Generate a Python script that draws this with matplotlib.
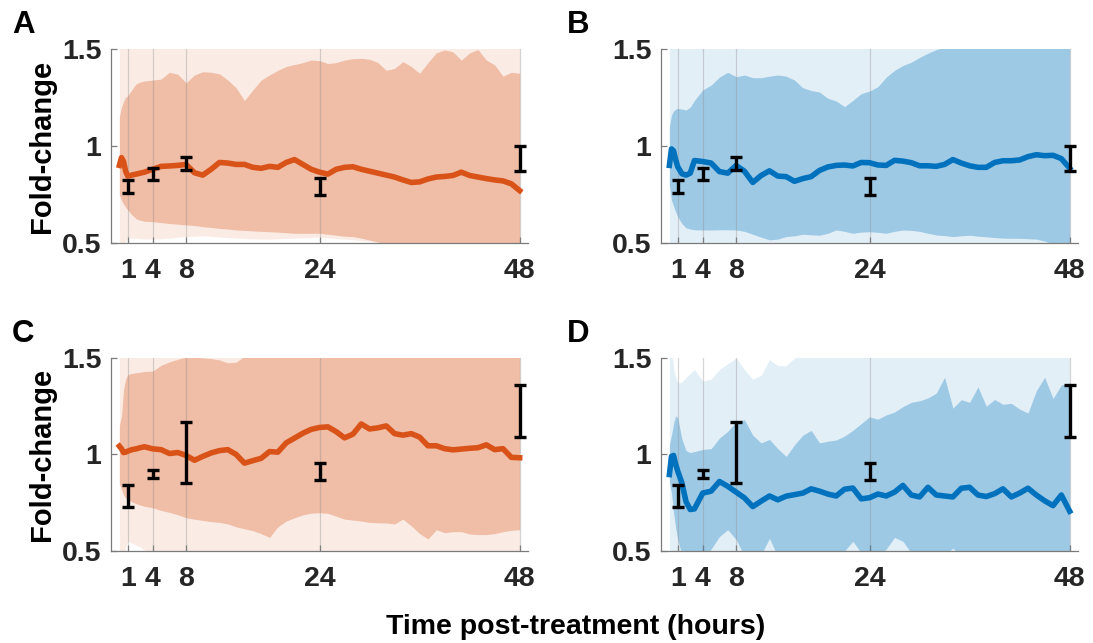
"""
Fold-change time courses for four conditions (A-D), mean line with two
shaded percentile bands and measured error bars at 1, 4, 8, 24, 48 h.
"""

import matplotlib
matplotlib.use("Agg")

import matplotlib.pyplot as plt

plt.rcParams["font.family"] = ["Liberation Sans", "DejaVu Sans"]
plt.rcParams["font.weight"] = "bold"

# -- time grid (hours) --
TIME = [0, 0.25, 0.5, 0.75, 1, 1.5, 2, 2.5, 3] + list(range(4, 49))

# -- panel A --
A_LINE = [0.90, 0.94, 0.92, 0.87, 0.845, 0.85, 0.855, 0.86, 0.865,
          0.88, 0.895, 0.897, 0.90, 0.905, 0.862, 0.85, 0.88, 0.915, 0.912,
          0.905, 0.905, 0.89, 0.885, 0.895, 0.89, 0.915, 0.93, 0.905, 0.88,
          0.865, 0.855, 0.88, 0.89, 0.893, 0.88, 0.87, 0.86, 0.85, 0.84,
          0.825, 0.812, 0.815, 0.83, 0.84, 0.843, 0.848, 0.865, 0.848, 0.84,
          0.832, 0.825, 0.82, 0.805, 0.77]
A_DARK_HI = [1.15, 1.20, 1.23, 1.25, 1.26, 1.29, 1.32, 1.33, 1.335,
             1.34, 1.345, 1.38, 1.37, 1.326, 1.366, 1.383, 1.38, 1.372, 1.34,
             1.30, 1.234, 1.289, 1.34, 1.366, 1.39, 1.41, 1.42, 1.43, 1.443,
             1.44, 1.425, 1.43, 1.443, 1.45, 1.452, 1.447, 1.43, 1.39, 1.40,
             1.435, 1.41, 1.375, 1.43, 1.48, 1.495, 1.485, 1.443, 1.48, 1.497,
             1.443, 1.418, 1.36, 1.38, 1.375]
A_DARK_LO = [0.75, 0.72, 0.70, 0.685, 0.67, 0.645, 0.625, 0.617, 0.612,
             0.61, 0.605, 0.60, 0.597, 0.593, 0.59, 0.584, 0.58, 0.575, 0.572,
             0.567, 0.565, 0.562, 0.56, 0.558, 0.556, 0.553, 0.55, 0.55, 0.55,
             0.55, 0.545, 0.54, 0.535, 0.533, 0.525, 0.515, 0.505, 0.495, 0.485,
             0.48, 0.475, 0.47, 0.47, 0.465, 0.46, 0.46, 0.455, 0.45, 0.45,
             0.45, 0.445, 0.44, 0.44, 0.44]
A_LIGHT_HI = [1.90, 1.85, 1.80, 1.75, 1.72, 1.70, 1.70, 1.68, 1.68,
              1.67, 1.67, 1.66, 1.66, 1.66, 1.65, 1.65, 1.65, 1.65, 1.65,
              1.65, 1.64, 1.64, 1.64, 1.64, 1.64, 1.64, 1.64, 1.64, 1.64,
              1.64, 1.64, 1.64, 1.64, 1.64, 1.64, 1.64, 1.64, 1.64, 1.64,
              1.64, 1.64, 1.64, 1.64, 1.64, 1.64, 1.64, 1.64, 1.64, 1.64,
              1.64, 1.64, 1.64, 1.64, 1.64]
A_LIGHT_LO = [0.35, 0.40, 0.47, 0.51, 0.53, 0.525, 0.524, 0.522, 0.521,
              0.52, 0.522, 0.525, 0.53, 0.533, 0.535, 0.537, 0.535, 0.53, 0.528,
              0.525, 0.523, 0.522, 0.52, 0.52, 0.522, 0.524, 0.525, 0.527, 0.528,
              0.53, 0.527, 0.523, 0.52, 0.517, 0.512, 0.508, 0.503, 0.497, 0.49,
              0.485, 0.48, 0.475, 0.47, 0.47, 0.465, 0.46, 0.46, 0.455, 0.45,
              0.45, 0.45, 0.445, 0.44, 0.44]

# -- panel B --
B_LINE = [0.90, 0.985, 0.975, 0.93, 0.893, 0.857, 0.85, 0.86, 0.925,
          0.92, 0.912, 0.868, 0.86, 0.90, 0.87, 0.812, 0.848, 0.872, 0.845,
          0.842, 0.818, 0.832, 0.842, 0.874, 0.892, 0.90, 0.902, 0.897, 0.915,
          0.914, 0.902, 0.90, 0.926, 0.922, 0.914, 0.898, 0.898, 0.895, 0.905,
          0.93, 0.912, 0.898, 0.89, 0.89, 0.915, 0.924, 0.924, 0.928, 0.945,
          0.955, 0.95, 0.952, 0.935, 0.885]
B_DARK_HI = [1.10, 1.16, 1.18, 1.19, 1.194, 1.19, 1.186, 1.20, 1.235,
             1.289, 1.314, 1.355, 1.38, 1.357, 1.366, 1.352, 1.352, 1.36, 1.366,
             1.36, 1.34, 1.30, 1.286, 1.278, 1.246, 1.232, 1.203, 1.235, 1.27,
             1.283, 1.306, 1.355, 1.39, 1.415, 1.432, 1.457, 1.478, 1.497, 1.51,
             1.52, 1.54, 1.55, 1.56, 1.56, 1.57, 1.57, 1.57, 1.58, 1.58,
             1.58, 1.58, 1.57, 1.56, 1.55]
B_DARK_LO = [0.80, 0.72, 0.69, 0.66, 0.636, 0.60, 0.578, 0.572, 0.568,
             0.567, 0.567, 0.568, 0.568, 0.567, 0.56, 0.545, 0.53, 0.516, 0.52,
             0.533, 0.537, 0.545, 0.542, 0.54, 0.55, 0.567, 0.56, 0.55, 0.556,
             0.558, 0.555, 0.55, 0.56, 0.567, 0.565, 0.56, 0.55, 0.541, 0.538,
             0.533, 0.537, 0.54, 0.535, 0.532, 0.528, 0.525, 0.524, 0.524, 0.522,
             0.52, 0.51, 0.495, 0.485, 0.48]
B_LIGHT_HI = [1.90, 1.85, 1.80, 1.75, 1.72, 1.70, 1.70, 1.68, 1.68,
              1.67, 1.67, 1.66, 1.66, 1.66, 1.65, 1.65, 1.65, 1.65, 1.65,
              1.65, 1.65, 1.65, 1.65, 1.65, 1.65, 1.65, 1.65, 1.65, 1.65,
              1.66, 1.66, 1.67, 1.68, 1.69, 1.70, 1.71, 1.72, 1.73, 1.74,
              1.75, 1.76, 1.77, 1.78, 1.78, 1.79, 1.79, 1.80, 1.80, 1.80,
              1.80, 1.80, 1.80, 1.80, 1.80]
B_LIGHT_LO = [0.30, 0.35, 0.40, 0.43, 0.45, 0.46, 0.47, 0.47, 0.47,
              0.47, 0.47, 0.47, 0.47, 0.47, 0.47, 0.46, 0.46, 0.46, 0.45,
              0.45, 0.45, 0.45, 0.45, 0.45, 0.45, 0.45, 0.45, 0.45, 0.45,
              0.45, 0.45, 0.45, 0.45, 0.45, 0.45, 0.45, 0.45, 0.45, 0.45,
              0.44, 0.44, 0.44, 0.44, 0.44, 0.44, 0.44, 0.44, 0.44, 0.43,
              0.43, 0.43, 0.42, 0.42, 0.42]

# -- panel C --
C_LINE = [1.043, 1.03, 1.01, 1.012, 1.017, 1.025, 1.029, 1.035, 1.04,
          1.029, 1.025, 1.005, 1.01, 0.995, 0.97, 0.99, 1.008, 1.02, 1.025,
          1.0, 0.955, 0.968, 0.98, 1.015, 1.012, 1.06, 1.085, 1.11, 1.13,
          1.14, 1.143, 1.118, 1.086, 1.105, 1.158, 1.132, 1.138, 1.148, 1.108,
          1.10, 1.108, 1.09, 1.045, 1.045, 1.03, 1.024, 1.028, 1.032, 1.035,
          1.05, 1.025, 1.03, 0.985, 0.983]
C_DARK_HI = [1.15, 1.20, 1.337, 1.39, 1.414, 1.42, 1.423, 1.426, 1.43,
             1.432, 1.462, 1.48, 1.493, 1.505, 1.505, 1.50, 1.497, 1.49, 1.475,
             1.478, 1.51, 1.53, 1.55, 1.56, 1.57, 1.58, 1.59, 1.60, 1.60,
             1.60, 1.60, 1.60, 1.60, 1.60, 1.60, 1.60, 1.60, 1.60, 1.60,
             1.60, 1.60, 1.60, 1.60, 1.60, 1.60, 1.60, 1.60, 1.60, 1.60,
             1.60, 1.60, 1.60, 1.60, 1.60]
C_DARK_LO = [0.85, 0.82, 0.79, 0.775, 0.767, 0.755, 0.745, 0.738, 0.732,
             0.724, 0.71, 0.70, 0.688, 0.672, 0.665, 0.658, 0.652, 0.648, 0.64,
             0.625, 0.615, 0.605, 0.59, 0.57, 0.625, 0.655, 0.672, 0.687, 0.696,
             0.698, 0.695, 0.68, 0.665, 0.66, 0.655, 0.648, 0.646, 0.645, 0.64,
             0.665, 0.63, 0.59, 0.562, 0.61, 0.595, 0.60, 0.60, 0.588, 0.585,
             0.585, 0.59, 0.60, 0.607, 0.61]
C_LIGHT_HI = [1.90, 1.85, 1.80, 1.75, 1.72, 1.70, 1.70, 1.68, 1.68,
              1.67, 1.67, 1.66, 1.66, 1.66, 1.65, 1.65, 1.65, 1.65, 1.65,
              1.65, 1.65, 1.65, 1.65, 1.65, 1.65, 1.65, 1.65, 1.65, 1.65,
              1.65, 1.65, 1.65, 1.65, 1.65, 1.65, 1.65, 1.65, 1.65, 1.65,
              1.65, 1.65, 1.65, 1.65, 1.65, 1.65, 1.65, 1.65, 1.65, 1.65,
              1.65, 1.65, 1.65, 1.65, 1.65]
C_LIGHT_LO = [0.30, 0.35, 0.45, 0.52, 0.551, 0.54, 0.53, 0.52, 0.505,
              0.49, 0.48, 0.47, 0.46, 0.46, 0.45, 0.45, 0.45, 0.45, 0.45,
              0.45, 0.45, 0.45, 0.45, 0.45, 0.45, 0.45, 0.45, 0.45, 0.45,
              0.45, 0.45, 0.45, 0.45, 0.45, 0.45, 0.45, 0.45, 0.45, 0.45,
              0.45, 0.45, 0.45, 0.45, 0.45, 0.45, 0.45, 0.45, 0.45, 0.45,
              0.45, 0.45, 0.45, 0.45, 0.45]

# -- panel D --
D_LINE = [0.896, 0.99, 0.995, 0.95, 0.914, 0.853, 0.755, 0.715, 0.718,
          0.80, 0.81, 0.86, 0.835, 0.805, 0.775, 0.73, 0.758, 0.785, 0.765,
          0.784, 0.792, 0.80, 0.822, 0.81, 0.795, 0.785, 0.82, 0.826, 0.77,
          0.776, 0.795, 0.785, 0.805, 0.84, 0.79, 0.78, 0.83, 0.79, 0.785,
          0.78, 0.825, 0.83, 0.79, 0.782, 0.797, 0.822, 0.78, 0.80, 0.825,
          0.79, 0.76, 0.735, 0.79, 0.706]
D_DARK_HI = [1.05, 1.10, 1.16, 1.20, 1.19, 1.08, 1.02, 1.01, 1.015,
             1.026, 1.03, 1.085, 1.12, 1.17, 1.18, 1.10, 1.06, 1.078, 1.03,
             0.99, 1.05, 1.10, 1.125, 1.06, 1.069, 1.075, 1.095, 1.125, 1.16,
             1.195, 1.183, 1.205, 1.22, 1.248, 1.27, 1.278, 1.293, 1.318, 1.40,
             1.24, 1.284, 1.27, 1.35, 1.25, 1.285, 1.26, 1.265, 1.235, 1.215,
             1.33, 1.40, 1.29, 1.36, 1.37]
D_DARK_LO = [0.86, 0.80, 0.70, 0.62, 0.56, 0.48, 0.44, 0.43, 0.43,
             0.45, 0.51, 0.575, 0.61, 0.56, 0.47, 0.45, 0.48, 0.565, 0.47,
             0.45, 0.45, 0.46, 0.46, 0.45, 0.46, 0.47, 0.50, 0.55, 0.49,
             0.46, 0.47, 0.51, 0.57, 0.55, 0.49, 0.46, 0.45, 0.46, 0.48,
             0.515, 0.47, 0.46, 0.45, 0.45, 0.45, 0.45, 0.45, 0.45, 0.45,
             0.44, 0.44, 0.44, 0.44, 0.44]
D_LIGHT_HI = [1.60, 1.55, 1.45, 1.40, 1.37, 1.375, 1.40, 1.42, 1.44,
              1.38, 1.39, 1.44, 1.47, 1.50, 1.44, 1.39, 1.41, 1.49, 1.46,
              1.46, 1.50, 1.53, 1.52, 1.55, 1.56, 1.57, 1.58, 1.58, 1.59,
              1.60, 1.60, 1.60, 1.60, 1.60, 1.60, 1.60, 1.60, 1.60, 1.60,
              1.60, 1.60, 1.60, 1.60, 1.60, 1.60, 1.60, 1.60, 1.60, 1.60,
              1.60, 1.60, 1.60, 1.60, 1.60]
D_LIGHT_LO = [0.30, 0.32, 0.35, 0.37, 0.38, 0.39, 0.40, 0.40, 0.40,
              0.40, 0.40, 0.40, 0.40, 0.40, 0.40, 0.40, 0.40, 0.40, 0.40,
              0.40, 0.40, 0.40, 0.40, 0.40, 0.40, 0.40, 0.40, 0.40, 0.40,
              0.40, 0.40, 0.40, 0.40, 0.40, 0.40, 0.40, 0.40, 0.40, 0.40,
              0.40, 0.40, 0.40, 0.40, 0.40, 0.40, 0.40, 0.40, 0.40, 0.40,
              0.40, 0.40, 0.40, 0.40, 0.40]

# -- measured points (mean +/- error) --
ERR_TIME = [1, 4, 8, 24, 48]
AB_MEAN = [0.792, 0.856, 0.910, 0.791, 0.935]
AB_ERR = [0.033, 0.031, 0.034, 0.044, 0.065]
CD_MEAN = [0.785, 0.899, 1.010, 0.912, 1.225]
CD_ERR = [0.057, 0.021, 0.160, 0.044, 0.135]

X_TICKS = [1, 4, 8, 24, 48]
Y_TICKS = [0.5, 1, 1.5]
Y_TICK_LABELS = ["0.5", "1", "1.5"]

ORANGE = "#D95319"
BLUE = "#0072BD"
TEXT = "#262626"

PANELS = [
    ("A", [0.1016, 0.6221, 0.3815, 0.3017], ORANGE,
     A_LINE, A_DARK_LO, A_DARK_HI, A_LIGHT_LO, A_LIGHT_HI, AB_MEAN, AB_ERR),
    ("B", [0.6048, 0.6221, 0.3815, 0.3017], BLUE,
     B_LINE, B_DARK_LO, B_DARK_HI, B_LIGHT_LO, B_LIGHT_HI, AB_MEAN, AB_ERR),
    ("C", [0.1016, 0.1431, 0.3815, 0.3002], ORANGE,
     C_LINE, C_DARK_LO, C_DARK_HI, C_LIGHT_LO, C_LIGHT_HI, CD_MEAN, CD_ERR),
    ("D", [0.6048, 0.1431, 0.3815, 0.3002], BLUE,
     D_LINE, D_DARK_LO, D_DARK_HI, D_LIGHT_LO, D_LIGHT_HI, CD_MEAN, CD_ERR),
]

fig = plt.figure(figsize=(10.93, 6.43), dpi=100)

for (letter, pos, color, line, dark_lo, dark_hi,
     light_lo, light_hi, mean, err) in PANELS:
    ax = fig.add_axes(pos)

    ax.fill_between(TIME, light_lo, light_hi, color=color, alpha=0.11,
                    linewidth=0, zorder=1)
    ax.fill_between(TIME, dark_lo, dark_hi, color=color, alpha=0.30,
                    linewidth=0, zorder=2)
    for t in X_TICKS:
        ax.axvline(t, color="#8a8a8a", linewidth=0.9, alpha=0.35, zorder=3)
    ax.plot(TIME, line, color=color, linewidth=4.0, zorder=4,
            solid_joinstyle="round")
    ax.errorbar(ERR_TIME, mean, yerr=err, fmt="none", ecolor="black",
                elinewidth=2.4, capsize=4.3, capthick=2.4, zorder=5)

    ax.set_xlim(-1, 49)
    ax.set_ylim(0.5, 1.5)
    ax.set_xticks(X_TICKS)
    ax.set_yticks(Y_TICKS)
    ax.set_yticklabels(Y_TICK_LABELS)
    ax.tick_params(direction="in", length=4, width=0.9, colors="#7a7a7a",
                   labelcolor=TEXT, labelsize=20.5)
    ax.tick_params(axis="x", pad=11)
    ax.tick_params(axis="y", pad=7)
    for lbl in ax.get_xticklabels() + ax.get_yticklabels():
        lbl.set_fontweight("bold")
    for side in ("top", "right"):
        ax.spines[side].set_visible(False)
    for side in ("left", "bottom"):
        ax.spines[side].set_color("#7a7a7a")
        ax.spines[side].set_linewidth(0.9)

    # panel letter
    fig.text(0.011 if letter in "AC" else 0.519,
             pos[1] + pos[3] + 0.025, letter, fontsize=22.5, fontweight="bold",
             color="black", va="baseline", ha="left")

    if letter in "AC":
        fig.text(0.038, pos[1] + pos[3] / 2, "Fold-change", rotation=90,
                 fontsize=21, fontweight="bold", color="black",
                 ha="center", va="center")

fig.text(0.527, 0.014, "Time post-treatment (hours)", fontsize=20.5,
         fontweight="bold", color="black", ha="center", va="baseline")

fig.savefig("out.png", dpi=100)
plt.close(fig)
